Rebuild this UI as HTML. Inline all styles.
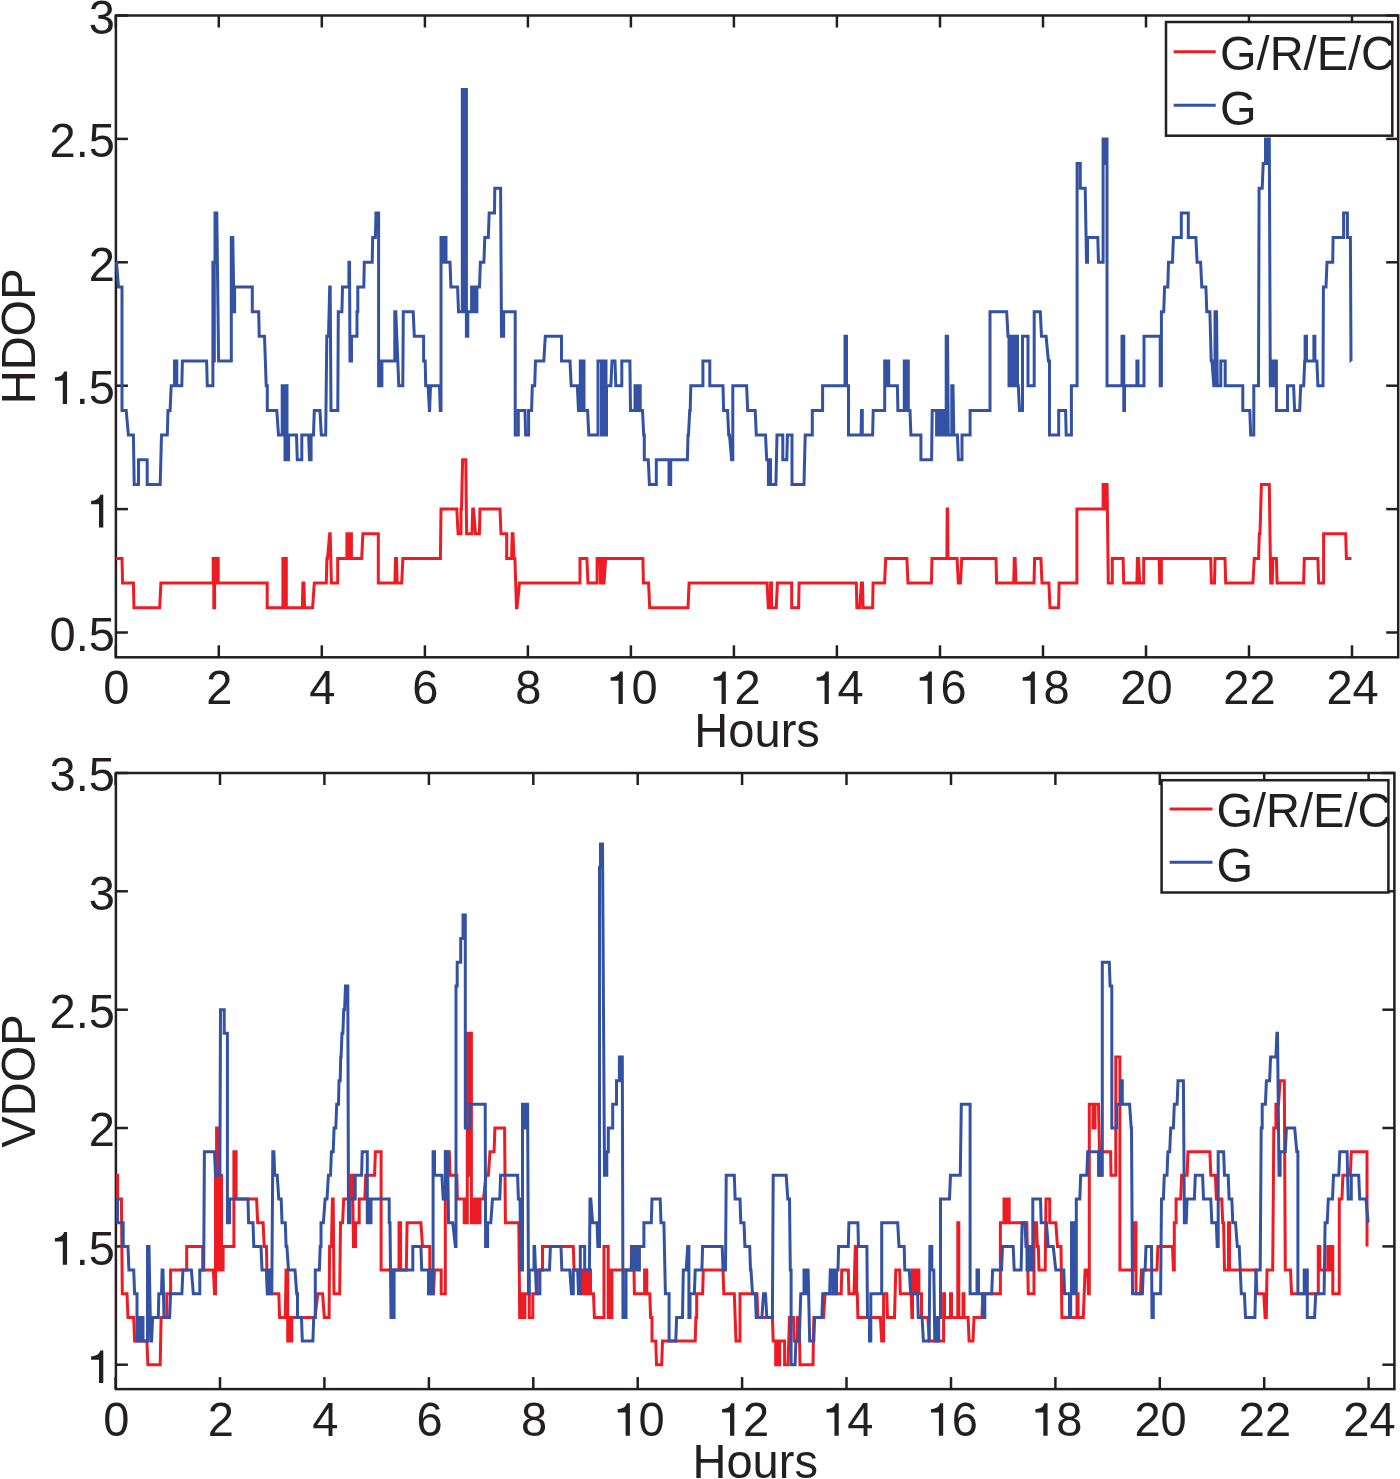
<!DOCTYPE html>
<html><head><meta charset="utf-8"><style>
html,body{margin:0;padding:0;background:#fff;}
body{width:1400px;height:1479px;overflow:hidden;font-family:"Liberation Sans",sans-serif;}
svg{display:block;}
</style></head><body>
<svg width="1400" height="1479" viewBox="0 0 1400 1479">
<g font-family="&quot;Liberation Sans&quot;, sans-serif" font-size="49" fill="#231f20">
<rect x="115.9" y="15.5" width="1282.3" height="641.8" fill="none" stroke="#231f20" stroke-width="2.5"/>
<line x1="115.8" y1="657.3" x2="115.8" y2="645.3" stroke="#231f20" stroke-width="2.5"/>
<line x1="115.8" y1="15.5" x2="115.8" y2="27.5" stroke="#231f20" stroke-width="2.5"/>
<line x1="218.8" y1="657.3" x2="218.8" y2="645.3" stroke="#231f20" stroke-width="2.5"/>
<line x1="218.8" y1="15.5" x2="218.8" y2="27.5" stroke="#231f20" stroke-width="2.5"/>
<line x1="321.8" y1="657.3" x2="321.8" y2="645.3" stroke="#231f20" stroke-width="2.5"/>
<line x1="321.8" y1="15.5" x2="321.8" y2="27.5" stroke="#231f20" stroke-width="2.5"/>
<line x1="424.9" y1="657.3" x2="424.9" y2="645.3" stroke="#231f20" stroke-width="2.5"/>
<line x1="424.9" y1="15.5" x2="424.9" y2="27.5" stroke="#231f20" stroke-width="2.5"/>
<line x1="527.9" y1="657.3" x2="527.9" y2="645.3" stroke="#231f20" stroke-width="2.5"/>
<line x1="527.9" y1="15.5" x2="527.9" y2="27.5" stroke="#231f20" stroke-width="2.5"/>
<line x1="630.9" y1="657.3" x2="630.9" y2="645.3" stroke="#231f20" stroke-width="2.5"/>
<line x1="630.9" y1="15.5" x2="630.9" y2="27.5" stroke="#231f20" stroke-width="2.5"/>
<line x1="733.9" y1="657.3" x2="733.9" y2="645.3" stroke="#231f20" stroke-width="2.5"/>
<line x1="733.9" y1="15.5" x2="733.9" y2="27.5" stroke="#231f20" stroke-width="2.5"/>
<line x1="836.9" y1="657.3" x2="836.9" y2="645.3" stroke="#231f20" stroke-width="2.5"/>
<line x1="836.9" y1="15.5" x2="836.9" y2="27.5" stroke="#231f20" stroke-width="2.5"/>
<line x1="940.0" y1="657.3" x2="940.0" y2="645.3" stroke="#231f20" stroke-width="2.5"/>
<line x1="940.0" y1="15.5" x2="940.0" y2="27.5" stroke="#231f20" stroke-width="2.5"/>
<line x1="1043.0" y1="657.3" x2="1043.0" y2="645.3" stroke="#231f20" stroke-width="2.5"/>
<line x1="1043.0" y1="15.5" x2="1043.0" y2="27.5" stroke="#231f20" stroke-width="2.5"/>
<line x1="1146.0" y1="657.3" x2="1146.0" y2="645.3" stroke="#231f20" stroke-width="2.5"/>
<line x1="1146.0" y1="15.5" x2="1146.0" y2="27.5" stroke="#231f20" stroke-width="2.5"/>
<line x1="1249.0" y1="657.3" x2="1249.0" y2="645.3" stroke="#231f20" stroke-width="2.5"/>
<line x1="1249.0" y1="15.5" x2="1249.0" y2="27.5" stroke="#231f20" stroke-width="2.5"/>
<line x1="1352.0" y1="657.3" x2="1352.0" y2="645.3" stroke="#231f20" stroke-width="2.5"/>
<line x1="1352.0" y1="15.5" x2="1352.0" y2="27.5" stroke="#231f20" stroke-width="2.5"/>
<line x1="115.9" y1="632.5" x2="127.9" y2="632.5" stroke="#231f20" stroke-width="2.5"/>
<line x1="1398.2" y1="632.5" x2="1386.2" y2="632.5" stroke="#231f20" stroke-width="2.5"/>
<line x1="115.9" y1="509.1" x2="127.9" y2="509.1" stroke="#231f20" stroke-width="2.5"/>
<line x1="1398.2" y1="509.1" x2="1386.2" y2="509.1" stroke="#231f20" stroke-width="2.5"/>
<line x1="115.9" y1="385.7" x2="127.9" y2="385.7" stroke="#231f20" stroke-width="2.5"/>
<line x1="1398.2" y1="385.7" x2="1386.2" y2="385.7" stroke="#231f20" stroke-width="2.5"/>
<line x1="115.9" y1="262.3" x2="127.9" y2="262.3" stroke="#231f20" stroke-width="2.5"/>
<line x1="1398.2" y1="262.3" x2="1386.2" y2="262.3" stroke="#231f20" stroke-width="2.5"/>
<line x1="115.9" y1="138.9" x2="127.9" y2="138.9" stroke="#231f20" stroke-width="2.5"/>
<line x1="1398.2" y1="138.9" x2="1386.2" y2="138.9" stroke="#231f20" stroke-width="2.5"/>
<line x1="115.9" y1="15.5" x2="127.9" y2="15.5" stroke="#231f20" stroke-width="2.5"/>
<line x1="1398.2" y1="15.5" x2="1386.2" y2="15.5" stroke="#231f20" stroke-width="2.5"/>
<polyline points="116.0,558.5 122.0,558.5 122.6,583.1 133.4,583.1 134.0,607.8 159.7,607.8 160.9,583.1 213.2,583.1 213.2,558.5 213.8,558.5 213.8,607.8 214.6,607.8 214.6,558.5 215.8,558.5 215.8,583.1 216.6,583.1 216.6,558.5 218.2,558.5 218.2,583.1 267.2,583.1 267.2,607.8 282.9,607.8 282.9,558.5 284.0,558.5 284.0,607.8 284.8,607.8 284.8,558.5 286.3,558.5 286.3,607.8 302.3,607.8 302.9,583.1 303.9,583.1 304.6,607.8 312.6,607.8 314.3,583.1 326.3,583.1 326.9,558.5 327.5,558.5 329.7,533.8 330.2,533.8 331.4,583.1 337.7,583.1 337.7,558.5 346.9,558.5 346.9,533.8 349.0,533.8 349.0,558.5 350.0,558.5 350.0,533.8 351.4,533.8 351.4,558.5 361.7,558.5 362.9,533.8 378.3,533.8 378.3,583.1 394.9,583.1 395.5,558.5 396.5,558.5 397.1,583.1 401.7,583.1 402.9,558.5 440.4,558.5 441.0,509.1 456.8,509.1 458.1,533.8 461.0,533.8 461.0,509.1 461.5,509.1 462.6,459.7 465.8,459.7 466.6,533.8 472.0,533.8 472.7,509.1 473.5,509.1 475.5,533.8 479.4,533.8 480.0,509.1 500.0,509.1 501.0,533.8 506.7,533.8 506.7,558.5 511.6,558.5 512.2,533.8 513.0,533.8 514.0,558.5 514.9,558.5 516.5,607.8 517.0,607.8 519.5,583.1 580.0,583.1 580.0,558.5 586.9,558.5 588.0,583.1 597.1,583.1 597.1,558.5 600.0,558.5 600.6,583.1 601.7,583.1 601.7,558.5 603.0,558.5 603.0,583.1 604.0,583.1 605.7,558.5 642.9,558.5 643.4,583.1 648.6,583.1 649.7,607.8 688.0,607.8 689.1,583.1 767.1,583.1 768.3,607.8 770.6,607.8 770.6,583.1 771.5,583.1 771.5,607.8 776.3,607.8 777.4,583.1 791.7,583.1 791.7,607.8 798.6,607.8 799.1,583.1 856.3,583.1 856.9,607.8 859.7,607.8 861.4,583.1 862.5,583.1 863.1,607.8 872.6,607.8 873.1,583.1 884.6,583.1 885.7,558.5 906.9,558.5 908.0,583.1 931.4,583.1 932.0,558.5 946.9,558.5 947.2,509.1 947.6,509.1 948.0,558.5 957.1,558.5 958.3,583.1 960.5,583.1 961.7,558.5 996.0,558.5 996.6,583.1 1013.7,583.1 1014.3,558.5 1015.1,558.5 1016.0,583.1 1034.0,583.1 1034.6,558.5 1040.9,558.5 1042.0,583.1 1048.9,583.1 1050.0,607.8 1058.6,607.8 1059.1,583.1 1076.9,583.1 1076.9,509.1 1103.1,509.1 1103.1,484.4 1104.5,484.4 1104.5,509.1 1105.5,509.1 1105.5,484.4 1107.1,484.4 1108.3,583.1 1112.3,583.1 1112.3,558.5 1123.1,558.5 1123.7,583.1 1136.9,583.1 1137.4,558.5 1138.5,558.5 1139.7,583.1 1143.7,583.1 1143.7,558.5 1159.1,558.5 1159.7,583.1 1161.4,583.1 1161.4,558.5 1210.7,558.5 1211.4,583.1 1214.5,583.1 1215.0,558.5 1225.0,558.5 1225.7,583.1 1252.9,583.1 1254.3,558.5 1258.6,558.5 1259.3,533.8 1260.0,533.8 1261.4,484.4 1269.3,484.4 1270.7,583.1 1272.2,583.1 1272.9,558.5 1276.4,558.5 1277.1,583.1 1303.6,583.1 1304.3,558.5 1317.9,558.5 1318.6,583.1 1323.6,583.1 1323.6,533.8 1345.7,533.8 1346.4,558.5 1351.4,558.5" fill="none" stroke="#ed1c24" stroke-width="3.0" stroke-linejoin="miter" stroke-miterlimit="3"/>
<polyline points="116.0,262.3 116.5,262.3 118.5,287.0 122.0,287.0 122.0,410.4 126.2,410.4 128.4,435.1 133.4,435.1 134.2,484.4 138.5,484.4 138.5,459.7 147.2,459.7 147.2,484.4 160.2,484.4 161.5,435.1 167.3,435.1 168.0,410.4 170.1,410.4 171.2,385.7 174.5,385.7 174.5,361.0 176.8,361.0 176.8,385.7 181.8,385.7 182.4,361.0 206.6,361.0 207.3,385.7 212.9,385.7 212.9,262.3 213.6,262.3 213.6,361.0 214.3,361.0 214.3,262.3 215.0,262.3 215.0,212.9 216.8,212.9 218.6,361.0 231.3,361.0 231.3,237.6 232.8,237.6 234.0,311.7 234.6,311.7 234.6,287.0 252.3,287.0 252.3,311.7 258.7,311.7 259.2,336.3 264.5,336.3 266.2,385.7 267.3,385.7 267.3,410.4 276.8,410.4 278.5,435.1 282.2,435.1 282.2,385.7 283.2,385.7 283.2,435.1 284.0,435.1 284.0,385.7 285.0,385.7 285.0,459.7 286.0,459.7 286.0,385.7 287.0,385.7 287.0,459.7 288.6,459.7 288.6,435.1 296.5,435.1 297.3,459.7 301.8,459.7 301.8,435.1 308.6,435.1 309.5,459.7 311.1,459.7 311.1,435.1 313.5,435.1 314.3,410.4 320.0,410.4 321.3,435.1 325.7,435.1 326.8,336.3 328.5,336.3 329.7,287.0 330.2,287.0 331.0,410.4 337.8,410.4 338.3,311.7 341.9,311.7 342.5,287.0 348.9,287.0 348.9,262.3 349.5,262.3 350.0,361.0 351.5,361.0 351.5,336.3 357.0,336.3 357.0,311.7 357.8,311.7 357.8,287.0 363.8,287.0 364.3,262.3 372.2,262.3 372.7,237.6 375.4,237.6 376.0,212.9 378.6,212.9 378.6,385.7 380.0,385.7 380.0,361.0 381.0,361.0 381.0,385.7 381.9,385.7 381.9,361.0 394.8,361.0 394.8,311.7 395.8,311.7 398.8,385.7 402.8,385.7 403.3,311.7 413.2,311.7 414.3,336.3 423.6,336.3 423.6,361.0 425.2,361.0 425.7,385.7 428.1,385.7 429.4,410.4 429.6,410.4 430.5,385.7 439.5,385.7 440.3,410.4 441.0,410.4 441.0,237.6 443.0,237.6 443.0,262.3 444.0,262.3 444.0,237.6 446.0,237.6 446.0,262.3 450.0,262.3 450.9,287.0 457.6,287.0 458.5,311.7 462.3,311.7 462.3,89.5 464.0,89.5 464.0,311.7 464.8,311.7 464.8,89.5 466.4,89.5 466.4,336.3 467.8,336.3 467.8,311.7 471.6,311.7 471.6,287.0 473.0,287.0 473.0,311.7 474.0,311.7 474.0,287.0 475.5,287.0 475.5,311.7 476.9,311.7 476.9,287.0 479.5,287.0 480.4,262.3 483.9,262.3 484.8,237.6 488.3,237.6 489.2,212.9 494.5,212.9 494.8,188.3 500.6,188.3 501.5,336.3 503.6,336.3 503.6,311.7 515.2,311.7 515.2,435.1 518.3,435.1 518.3,410.4 525.0,410.4 525.6,435.1 528.6,435.1 528.6,410.4 531.6,410.4 532.3,385.7 534.7,385.7 535.5,361.0 543.8,361.0 545.3,336.3 561.5,336.3 561.5,361.0 570.0,361.0 571.2,385.7 577.3,385.7 578.5,410.4 580.3,410.4 580.3,361.0 581.5,361.0 581.5,410.4 582.5,410.4 582.5,361.0 584.0,361.0 584.0,410.4 587.6,410.4 588.8,435.1 598.0,435.1 598.0,361.0 601.5,361.0 601.5,435.1 602.5,435.1 602.5,361.0 603.5,361.0 603.5,435.1 605.0,435.1 605.0,361.0 606.0,361.0 606.0,435.1 606.5,435.1 606.5,385.7 610.9,385.7 612.0,361.0 615.0,361.0 615.8,385.7 621.8,385.7 621.8,361.0 629.9,361.0 630.5,410.4 635.0,410.4 635.0,385.7 636.5,385.7 636.5,410.4 637.5,410.4 637.5,385.7 640.2,385.7 640.2,410.4 642.5,410.4 643.7,435.1 644.3,435.1 644.3,459.7 648.3,459.7 649.4,484.4 656.3,484.4 656.3,459.7 669.0,459.7 669.0,484.4 670.7,484.4 670.7,459.7 687.4,459.7 688.0,435.1 688.5,435.1 689.7,410.4 690.2,410.4 690.8,385.7 702.9,385.7 702.9,361.0 709.8,361.0 709.8,385.7 723.0,385.7 723.6,410.4 727.6,410.4 728.7,435.1 729.5,435.1 731.6,459.7 732.8,459.7 732.8,385.7 746.6,385.7 747.7,410.4 755.2,410.4 756.3,435.1 765.5,435.1 766.7,459.7 768.4,459.7 768.4,484.4 769.5,484.4 769.5,459.7 770.5,459.7 770.5,484.4 775.9,484.4 777.0,435.1 782.8,435.1 782.8,459.7 786.8,459.7 787.4,435.1 792.0,435.1 792.0,484.4 804.0,484.4 805.2,435.1 812.3,435.1 812.3,410.4 822.6,410.4 822.6,385.7 845.0,385.7 845.0,336.3 846.5,336.3 846.5,385.7 848.5,385.7 848.5,435.1 861.1,435.1 861.5,410.4 862.3,410.4 862.3,435.1 872.6,435.1 873.2,410.4 884.7,410.4 884.7,361.0 886.0,361.0 886.0,385.7 887.0,385.7 887.0,361.0 888.7,361.0 888.7,385.7 897.4,385.7 897.9,410.4 904.3,410.4 904.3,361.0 905.5,361.0 905.5,410.4 906.5,410.4 906.5,361.0 908.3,361.0 908.3,410.4 910.0,410.4 910.9,435.1 920.9,435.1 920.9,459.7 931.6,459.7 932.2,410.4 936.6,410.4 936.6,435.1 937.6,435.1 937.6,410.4 938.6,410.4 938.6,435.1 939.6,435.1 939.6,410.4 941.0,410.4 941.0,435.1 942.5,435.1 942.5,410.4 944.0,410.4 944.0,435.1 946.2,435.1 946.2,336.3 947.5,336.3 948.3,435.1 951.8,435.1 951.8,385.7 953.0,385.7 953.8,435.1 957.4,435.1 958.4,459.7 962.0,459.7 962.0,435.1 970.1,435.1 970.1,410.4 990.0,410.4 990.0,311.7 1006.7,311.7 1008.0,336.3 1009.0,336.3 1009.0,385.7 1010.5,385.7 1010.5,336.3 1012.0,336.3 1012.0,385.7 1013.5,385.7 1013.5,336.3 1015.0,336.3 1015.0,385.7 1016.5,385.7 1016.5,336.3 1017.5,336.3 1017.5,385.7 1018.3,385.7 1019.5,410.4 1021.5,410.4 1022.5,410.4 1022.5,336.3 1028.0,336.3 1028.0,385.7 1034.2,385.7 1034.2,311.7 1040.3,311.7 1041.5,336.3 1046.1,336.3 1048.4,361.0 1049.5,361.0 1049.5,435.1 1058.7,435.1 1058.7,410.4 1065.6,410.4 1066.2,435.1 1071.4,435.1 1071.4,385.7 1077.1,385.7 1077.1,163.6 1080.3,163.6 1080.3,188.3 1085.2,188.3 1086.5,262.3 1087.5,262.3 1087.5,237.6 1097.8,237.6 1098.5,262.3 1103.1,262.3 1103.1,138.9 1104.5,138.9 1104.5,163.6 1105.5,163.6 1105.5,138.9 1107.0,138.9 1107.0,385.7 1122.0,385.7 1122.0,336.3 1123.8,336.3 1123.8,410.4 1124.5,410.4 1124.5,385.7 1136.9,385.7 1136.9,361.0 1138.0,361.0 1138.0,385.7 1144.0,385.7 1144.0,336.3 1160.2,336.3 1160.2,385.7 1161.4,385.7 1161.4,311.7 1163.7,311.7 1164.6,287.0 1167.8,287.0 1168.5,262.3 1172.5,262.3 1173.4,237.6 1181.3,237.6 1181.3,212.9 1188.3,212.9 1188.3,237.6 1195.9,237.6 1197.1,262.3 1200.6,262.3 1201.8,287.0 1205.9,287.0 1206.8,311.7 1209.9,311.7 1211.2,361.0 1212.0,361.0 1213.8,385.7 1215.0,385.7 1215.0,311.7 1216.5,311.7 1217.3,385.7 1220.8,385.7 1220.8,361.0 1225.2,361.0 1225.2,385.7 1242.8,385.7 1242.8,410.4 1249.8,410.4 1250.7,435.1 1253.8,435.1 1253.8,385.7 1258.5,385.7 1259.1,188.3 1262.2,188.3 1263.2,163.6 1265.5,163.6 1265.5,138.9 1267.0,138.9 1267.0,163.6 1268.0,163.6 1268.0,138.9 1269.3,138.9 1270.3,385.7 1271.5,385.7 1271.5,361.0 1273.0,361.0 1273.0,385.7 1274.0,385.7 1274.0,361.0 1276.4,361.0 1276.4,410.4 1287.5,410.4 1287.5,385.7 1293.6,385.7 1294.6,410.4 1299.7,410.4 1300.7,385.7 1303.7,385.7 1304.7,361.0 1305.1,361.0 1305.1,336.3 1306.5,336.3 1306.5,361.0 1313.9,361.0 1313.9,336.3 1314.9,336.3 1314.9,361.0 1316.9,361.0 1317.9,385.7 1323.0,385.7 1323.4,287.0 1326.0,287.0 1327.0,262.3 1332.7,262.3 1333.1,237.6 1343.6,237.6 1343.6,212.9 1347.4,212.9 1347.4,237.6 1350.4,237.6 1351.0,361.0 1351.2,361.0" fill="none" stroke="#3352a4" stroke-width="3.0" stroke-linejoin="miter" stroke-miterlimit="3"/>
<text transform="translate(103.22,704.00) scale(0.96,1)">0</text>
<text transform="translate(206.24,704.00) scale(0.96,1)">2</text>
<text transform="translate(309.26,704.00) scale(0.96,1)">4</text>
<text transform="translate(412.28,704.00) scale(0.96,1)">6</text>
<text transform="translate(515.30,704.00) scale(0.96,1)">8</text>
<path transform="translate(605.25,704.00) scale(0.04704,-0.04900)" d="M373,0 L373,665 L309,665 C290,610 255,570 190,555 C160,548 130,545 114,540 L114,473 L282,473 L282,0 Z"/><text transform="translate(631.40,704.00) scale(0.96,1)">0</text>
<path transform="translate(708.27,704.00) scale(0.04704,-0.04900)" d="M373,0 L373,665 L309,665 C290,610 255,570 190,555 C160,548 130,545 114,540 L114,473 L282,473 L282,0 Z"/><text transform="translate(734.42,704.00) scale(0.96,1)">2</text>
<path transform="translate(811.29,704.00) scale(0.04704,-0.04900)" d="M373,0 L373,665 L309,665 C290,610 255,570 190,555 C160,548 130,545 114,540 L114,473 L282,473 L282,0 Z"/><text transform="translate(837.44,704.00) scale(0.96,1)">4</text>
<path transform="translate(914.31,704.00) scale(0.04704,-0.04900)" d="M373,0 L373,665 L309,665 C290,610 255,570 190,555 C160,548 130,545 114,540 L114,473 L282,473 L282,0 Z"/><text transform="translate(940.46,704.00) scale(0.96,1)">6</text>
<path transform="translate(1017.33,704.00) scale(0.04704,-0.04900)" d="M373,0 L373,665 L309,665 C290,610 255,570 190,555 C160,548 130,545 114,540 L114,473 L282,473 L282,0 Z"/><text transform="translate(1043.48,704.00) scale(0.96,1)">8</text>
<text transform="translate(1120.35,704.00) scale(0.96,1)">2</text><text transform="translate(1146.50,704.00) scale(0.96,1)">0</text>
<text transform="translate(1223.37,704.00) scale(0.96,1)">2</text><text transform="translate(1249.52,704.00) scale(0.96,1)">2</text>
<text transform="translate(1326.39,704.00) scale(0.96,1)">2</text><text transform="translate(1352.54,704.00) scale(0.96,1)">4</text>
<text transform="translate(49.51,650.80) scale(0.96,1)">0</text><text transform="translate(75.67,650.80) scale(0.96,1)">.</text><text transform="translate(88.75,650.80) scale(0.96,1)">5</text>
<path transform="translate(85.75,527.40) scale(0.04704,-0.04900)" d="M373,0 L373,665 L309,665 C290,610 255,570 190,555 C160,548 130,545 114,540 L114,473 L282,473 L282,0 Z"/>
<path transform="translate(49.51,404.00) scale(0.04704,-0.04900)" d="M373,0 L373,665 L309,665 C290,610 255,570 190,555 C160,548 130,545 114,540 L114,473 L282,473 L282,0 Z"/><text transform="translate(75.67,404.00) scale(0.96,1)">.</text><text transform="translate(88.75,404.00) scale(0.96,1)">5</text>
<text transform="translate(88.75,280.60) scale(0.96,1)">2</text>
<text transform="translate(49.51,157.20) scale(0.96,1)">2</text><text transform="translate(75.67,157.20) scale(0.96,1)">.</text><text transform="translate(88.75,157.20) scale(0.96,1)">5</text>
<text transform="translate(88.75,33.80) scale(0.96,1)">3</text>
<text transform="translate(757.1,747.4) scale(0.96,1)" text-anchor="middle">Hours</text>
<text transform="translate(34.5,336.4) rotate(-90) scale(0.96,1)" text-anchor="middle">HDOP</text>
<rect x="1166" y="22" width="226.29999999999995" height="113.69999999999999" fill="#fff" stroke="#231f20" stroke-width="2.5"/>
<line x1="1173.7" y1="51.7" x2="1215.7" y2="51.7" stroke="#ed1c24" stroke-width="3.0"/>
<line x1="1173.7" y1="105.2" x2="1215.7" y2="105.2" stroke="#3352a4" stroke-width="3.0"/>
<text transform="translate(1220.0,69.7) scale(0.96,1)">G/R/E/C</text>
<text transform="translate(1220.0,124.9) scale(0.96,1)">G</text>
<rect x="115.9" y="773.0" width="1278.5" height="616.0999999999999" fill="none" stroke="#231f20" stroke-width="2.5"/>
<line x1="115.6" y1="1389.1" x2="115.6" y2="1377.1" stroke="#231f20" stroke-width="2.5"/>
<line x1="115.6" y1="773.0" x2="115.6" y2="785.0" stroke="#231f20" stroke-width="2.5"/>
<line x1="220.0" y1="1389.1" x2="220.0" y2="1377.1" stroke="#231f20" stroke-width="2.5"/>
<line x1="220.0" y1="773.0" x2="220.0" y2="785.0" stroke="#231f20" stroke-width="2.5"/>
<line x1="324.4" y1="1389.1" x2="324.4" y2="1377.1" stroke="#231f20" stroke-width="2.5"/>
<line x1="324.4" y1="773.0" x2="324.4" y2="785.0" stroke="#231f20" stroke-width="2.5"/>
<line x1="428.9" y1="1389.1" x2="428.9" y2="1377.1" stroke="#231f20" stroke-width="2.5"/>
<line x1="428.9" y1="773.0" x2="428.9" y2="785.0" stroke="#231f20" stroke-width="2.5"/>
<line x1="533.3" y1="1389.1" x2="533.3" y2="1377.1" stroke="#231f20" stroke-width="2.5"/>
<line x1="533.3" y1="773.0" x2="533.3" y2="785.0" stroke="#231f20" stroke-width="2.5"/>
<line x1="637.7" y1="1389.1" x2="637.7" y2="1377.1" stroke="#231f20" stroke-width="2.5"/>
<line x1="637.7" y1="773.0" x2="637.7" y2="785.0" stroke="#231f20" stroke-width="2.5"/>
<line x1="742.1" y1="1389.1" x2="742.1" y2="1377.1" stroke="#231f20" stroke-width="2.5"/>
<line x1="742.1" y1="773.0" x2="742.1" y2="785.0" stroke="#231f20" stroke-width="2.5"/>
<line x1="846.5" y1="1389.1" x2="846.5" y2="1377.1" stroke="#231f20" stroke-width="2.5"/>
<line x1="846.5" y1="773.0" x2="846.5" y2="785.0" stroke="#231f20" stroke-width="2.5"/>
<line x1="951.0" y1="1389.1" x2="951.0" y2="1377.1" stroke="#231f20" stroke-width="2.5"/>
<line x1="951.0" y1="773.0" x2="951.0" y2="785.0" stroke="#231f20" stroke-width="2.5"/>
<line x1="1055.4" y1="1389.1" x2="1055.4" y2="1377.1" stroke="#231f20" stroke-width="2.5"/>
<line x1="1055.4" y1="773.0" x2="1055.4" y2="785.0" stroke="#231f20" stroke-width="2.5"/>
<line x1="1159.8" y1="1389.1" x2="1159.8" y2="1377.1" stroke="#231f20" stroke-width="2.5"/>
<line x1="1159.8" y1="773.0" x2="1159.8" y2="785.0" stroke="#231f20" stroke-width="2.5"/>
<line x1="1264.2" y1="1389.1" x2="1264.2" y2="1377.1" stroke="#231f20" stroke-width="2.5"/>
<line x1="1264.2" y1="773.0" x2="1264.2" y2="785.0" stroke="#231f20" stroke-width="2.5"/>
<line x1="1368.6" y1="1389.1" x2="1368.6" y2="1377.1" stroke="#231f20" stroke-width="2.5"/>
<line x1="1368.6" y1="773.0" x2="1368.6" y2="785.0" stroke="#231f20" stroke-width="2.5"/>
<line x1="115.9" y1="1364.7" x2="127.9" y2="1364.7" stroke="#231f20" stroke-width="2.5"/>
<line x1="1394.4" y1="1364.7" x2="1382.4" y2="1364.7" stroke="#231f20" stroke-width="2.5"/>
<line x1="115.9" y1="1246.4" x2="127.9" y2="1246.4" stroke="#231f20" stroke-width="2.5"/>
<line x1="1394.4" y1="1246.4" x2="1382.4" y2="1246.4" stroke="#231f20" stroke-width="2.5"/>
<line x1="115.9" y1="1128.0" x2="127.9" y2="1128.0" stroke="#231f20" stroke-width="2.5"/>
<line x1="1394.4" y1="1128.0" x2="1382.4" y2="1128.0" stroke="#231f20" stroke-width="2.5"/>
<line x1="115.9" y1="1009.7" x2="127.9" y2="1009.7" stroke="#231f20" stroke-width="2.5"/>
<line x1="1394.4" y1="1009.7" x2="1382.4" y2="1009.7" stroke="#231f20" stroke-width="2.5"/>
<line x1="115.9" y1="891.3" x2="127.9" y2="891.3" stroke="#231f20" stroke-width="2.5"/>
<line x1="1394.4" y1="891.3" x2="1382.4" y2="891.3" stroke="#231f20" stroke-width="2.5"/>
<line x1="115.9" y1="773.0" x2="127.9" y2="773.0" stroke="#231f20" stroke-width="2.5"/>
<line x1="1394.4" y1="773.0" x2="1382.4" y2="773.0" stroke="#231f20" stroke-width="2.5"/>
<polyline points="116.0,1175.3 117.6,1175.3 117.6,1199.0 121.4,1199.0 122.3,1293.7 127.0,1293.7 128.0,1317.4 133.7,1317.4 134.6,1341.0 146.9,1341.0 147.9,1364.7 160.2,1364.7 161.1,1317.4 166.8,1317.4 166.8,1293.7 170.6,1293.7 170.6,1270.0 186.7,1270.0 186.7,1246.4 202.7,1246.4 202.7,1270.0 213.4,1270.0 214.5,1293.7 215.5,1293.7 215.5,1175.3 216.6,1175.3 216.6,1128.0 217.5,1128.0 217.5,1270.0 218.5,1270.0 218.5,1175.3 219.5,1175.3 219.5,1270.0 220.5,1270.0 220.5,1175.3 221.5,1175.3 221.5,1270.0 223.1,1270.0 223.1,1246.4 233.9,1246.4 233.9,1151.7 236.1,1151.7 236.1,1199.0 256.6,1199.0 257.7,1222.7 263.1,1222.7 264.2,1246.4 266.4,1246.4 267.4,1293.7 278.8,1293.7 279.6,1317.4 285.3,1317.4 286.1,1270.0 287.7,1270.0 287.7,1341.0 289.0,1341.0 289.0,1317.4 290.0,1317.4 290.0,1341.0 291.8,1341.0 291.8,1317.4 315.0,1317.4 317.8,1293.7 322.6,1293.7 324.3,1317.4 329.1,1317.4 329.6,1246.4 331.5,1246.4 332.4,1199.0 333.2,1199.0 334.0,1293.7 339.7,1293.7 340.5,1222.7 342.6,1222.7 343.7,1199.0 350.2,1199.0 351.0,1175.3 352.5,1175.3 353.5,1246.4 355.5,1246.4 355.5,1222.7 359.2,1222.7 359.2,1199.0 364.8,1199.0 365.7,1175.3 374.6,1175.3 375.4,1151.7 381.1,1151.7 381.1,1270.0 399.0,1270.0 399.0,1222.7 400.6,1222.7 400.6,1270.0 406.3,1270.0 407.1,1222.7 420.9,1222.7 422.5,1246.4 429.8,1246.4 429.8,1293.7 433.5,1293.7 434.5,1270.0 441.2,1270.0 441.2,1293.7 445.3,1293.7 445.3,1151.7 449.3,1151.7 450.0,1175.3 456.8,1175.3 457.4,1199.0 464.2,1199.0 464.2,1222.7 465.5,1222.7 465.5,1199.0 466.5,1199.0 466.5,1222.7 467.3,1222.7 467.3,1033.3 469.5,1033.3 469.5,1175.3 470.5,1175.3 470.5,1033.3 471.4,1033.3 471.4,1222.7 473.0,1222.7 473.0,1199.0 474.5,1199.0 474.5,1222.7 476.5,1222.7 476.5,1199.0 478.0,1199.0 478.0,1222.7 480.0,1222.7 480.0,1199.0 483.5,1199.0 486.0,1175.3 488.4,1175.3 490.0,1151.7 494.1,1151.7 494.9,1128.0 504.6,1128.0 505.4,1222.7 518.8,1222.7 519.7,1317.4 521.0,1317.4 521.0,1293.7 522.5,1293.7 522.5,1317.4 524.9,1317.4 524.9,1293.7 529.3,1293.7 529.3,1317.4 532.8,1317.4 532.8,1293.7 537.2,1293.7 537.2,1270.0 542.5,1270.0 542.5,1246.4 573.3,1246.4 574.1,1270.0 582.0,1270.0 582.0,1293.7 584.0,1293.7 584.0,1270.0 586.0,1270.0 586.0,1293.7 588.0,1293.7 588.0,1270.0 590.5,1270.0 590.5,1293.7 593.5,1293.7 594.4,1317.4 604.0,1317.4 604.0,1246.4 608.2,1246.4 608.2,1317.4 609.5,1317.4 609.5,1270.0 610.5,1270.0 610.5,1317.4 611.9,1317.4 611.9,1270.0 631.4,1270.0 631.4,1246.4 633.6,1246.4 634.4,1293.7 644.6,1293.7 644.6,1270.0 646.8,1270.0 646.8,1293.7 649.8,1293.7 650.6,1317.4 652.0,1317.4 652.0,1341.0 655.8,1341.0 656.5,1364.7 661.7,1364.7 662.5,1341.0 695.2,1341.0 695.9,1317.4 696.7,1317.4 696.7,1293.7 702.6,1293.7 703.3,1270.0 723.0,1270.0 723.8,1293.7 734.3,1293.7 736.0,1341.0 740.0,1341.0 740.0,1293.7 757.0,1293.7 757.8,1317.4 772.4,1317.4 773.2,1341.0 775.7,1341.0 775.7,1364.7 777.0,1364.7 777.0,1341.0 778.0,1341.0 778.0,1364.7 779.7,1364.7 779.7,1341.0 784.6,1341.0 784.6,1364.7 788.0,1364.7 789.5,1317.4 793.5,1317.4 794.3,1341.0 797.5,1341.0 797.5,1317.4 799.2,1317.4 800.0,1364.7 813.0,1364.7 813.8,1317.4 823.5,1317.4 825.1,1293.7 841.2,1293.7 841.8,1270.0 848.3,1270.0 848.9,1293.7 854.0,1293.7 855.3,1246.4 856.6,1246.4 856.6,1293.7 857.3,1293.7 857.9,1317.4 880.4,1317.4 881.7,1341.0 883.6,1341.0 883.6,1293.7 886.8,1293.7 887.5,1317.4 894.5,1317.4 895.8,1270.0 899.7,1270.0 900.3,1293.7 911.2,1293.7 911.9,1317.4 912.5,1317.4 912.5,1270.0 914.5,1270.0 914.5,1293.7 916.0,1293.7 916.0,1270.0 918.9,1270.0 918.9,1293.7 921.5,1293.7 921.5,1317.4 927.9,1317.4 929.2,1341.0 943.6,1341.0 943.6,1293.7 944.5,1293.7 944.5,1317.4 950.5,1317.4 950.5,1293.7 951.5,1293.7 951.5,1317.4 957.8,1317.4 957.8,1222.7 958.8,1222.7 958.8,1317.4 963.0,1317.4 963.0,1293.7 964.0,1293.7 964.0,1317.4 968.1,1317.4 969.1,1341.0 973.0,1341.0 974.0,1317.4 981.9,1317.4 982.8,1293.7 1000.4,1293.7 1000.4,1222.7 1004.0,1222.7 1004.0,1199.0 1005.5,1199.0 1005.5,1222.7 1006.5,1222.7 1006.5,1199.0 1009.2,1199.0 1009.2,1222.7 1026.8,1222.7 1028.3,1293.7 1034.0,1293.7 1034.0,1222.7 1036.5,1222.7 1037.3,1246.4 1038.3,1246.4 1039.0,1270.0 1045.2,1270.0 1046.0,1199.0 1049.7,1199.0 1049.7,1222.7 1055.8,1222.7 1057.5,1246.4 1061.0,1246.4 1061.9,1317.4 1077.0,1317.4 1077.0,1293.7 1078.1,1293.7 1078.1,1317.4 1083.3,1317.4 1085.1,1270.0 1087.7,1270.0 1088.5,1293.7 1089.3,1293.7 1089.3,1104.3 1093.0,1104.3 1093.0,1128.0 1095.0,1128.0 1095.0,1104.3 1098.5,1104.3 1100.0,1175.3 1101.2,1175.3 1101.2,1151.7 1110.6,1151.7 1111.0,1175.3 1115.8,1175.3 1115.8,1057.0 1119.9,1057.0 1119.9,1270.0 1133.2,1270.0 1134.1,1222.7 1136.0,1222.7 1136.0,1293.7 1140.5,1293.7 1141.4,1270.0 1157.0,1270.0 1157.9,1246.4 1172.5,1246.4 1173.4,1270.0 1174.3,1270.0 1174.3,1222.7 1176.1,1222.7 1176.1,1199.0 1180.7,1199.0 1181.6,1175.3 1187.1,1175.3 1188.0,1151.7 1209.9,1151.7 1210.8,1175.3 1215.4,1175.3 1216.3,1199.0 1221.8,1199.0 1222.7,1222.7 1223.6,1222.7 1224.5,1270.0 1228.5,1270.0 1228.5,1222.7 1229.5,1222.7 1229.5,1270.0 1256.0,1270.0 1257.0,1293.7 1263.8,1293.7 1265.1,1317.4 1266.3,1317.4 1267.0,1270.0 1272.7,1270.0 1273.8,1128.0 1275.9,1128.0 1275.9,1104.3 1278.5,1104.3 1280.1,1080.7 1284.3,1080.7 1285.3,1270.0 1290.5,1270.0 1291.6,1293.7 1318.3,1293.7 1318.3,1246.4 1319.8,1246.4 1319.8,1270.0 1327.8,1270.0 1327.8,1246.4 1329.5,1246.4 1329.5,1270.0 1330.5,1270.0 1330.5,1246.4 1332.8,1246.4 1332.8,1293.7 1339.3,1293.7 1339.3,1199.0 1341.9,1199.0 1342.9,1175.3 1350.3,1175.3 1351.3,1151.7 1367.0,1151.7 1367.0,1246.4" fill="none" stroke="#ed1c24" stroke-width="3.0" stroke-linejoin="miter" stroke-miterlimit="3"/>
<polyline points="116.0,1199.0 117.5,1199.0 117.5,1222.7 123.2,1222.7 123.2,1246.4 128.0,1246.4 128.9,1270.0 133.7,1270.0 134.6,1293.7 137.0,1293.7 137.0,1341.0 138.5,1341.0 138.5,1317.4 140.0,1317.4 140.0,1341.0 141.5,1341.0 141.5,1317.4 143.0,1317.4 143.0,1341.0 147.5,1341.0 147.5,1246.4 149.0,1246.4 150.7,1341.0 151.6,1341.0 152.6,1317.4 158.3,1317.4 158.8,1293.7 161.5,1293.7 162.1,1270.0 163.0,1270.0 164.0,1317.4 169.6,1317.4 170.6,1293.7 181.9,1293.7 182.9,1270.0 191.4,1270.0 193.3,1293.7 199.8,1293.7 199.8,1270.0 203.7,1270.0 204.4,1151.7 214.5,1151.7 215.5,1175.3 219.9,1175.3 220.5,1009.7 224.2,1009.7 224.2,1033.3 227.4,1033.3 227.4,1222.7 229.6,1222.7 229.6,1199.0 248.0,1199.0 248.6,1222.7 253.0,1222.7 253.8,1246.4 261.0,1246.4 262.0,1270.0 266.4,1270.0 267.4,1293.7 268.5,1293.7 268.5,1270.0 270.0,1270.0 270.0,1293.7 271.8,1293.7 272.8,1151.7 273.9,1151.7 274.7,1175.3 277.2,1175.3 278.8,1199.0 281.2,1199.0 282.0,1222.7 285.3,1222.7 286.1,1246.4 286.9,1246.4 288.5,1270.0 295.0,1270.0 296.7,1293.7 297.5,1293.7 297.5,1317.4 301.5,1317.4 302.3,1341.0 312.9,1341.0 313.7,1317.4 315.3,1317.4 315.3,1270.0 319.4,1270.0 320.2,1246.4 321.0,1246.4 321.0,1222.7 323.4,1222.7 325.1,1199.0 327.0,1199.0 328.4,1175.3 330.5,1175.3 331.4,1151.7 333.2,1151.7 334.1,1128.0 335.8,1128.0 336.7,1104.3 338.5,1104.3 339.0,1080.7 340.2,1080.7 340.7,1057.0 341.1,1057.0 342.0,1033.3 342.9,1033.3 343.7,1009.7 344.6,1009.7 345.5,986.0 347.8,986.0 348.5,1222.7 350.0,1222.7 350.0,1199.0 355.2,1199.0 355.2,1175.3 361.6,1175.3 362.2,1151.7 367.3,1151.7 367.3,1222.7 369.0,1222.7 369.0,1199.0 370.0,1199.0 370.0,1222.7 371.0,1222.7 371.0,1199.0 389.2,1199.0 389.2,1222.7 390.0,1222.7 391.0,1317.4 392.0,1317.4 392.0,1270.0 393.0,1270.0 393.0,1317.4 394.1,1317.4 394.1,1270.0 412.8,1270.0 412.8,1246.4 420.9,1246.4 421.7,1270.0 428.5,1270.0 428.5,1293.7 430.0,1293.7 430.0,1270.0 431.0,1270.0 431.0,1293.7 433.1,1293.7 433.1,1151.7 434.5,1151.7 434.5,1175.3 441.9,1175.3 443.2,1199.0 445.5,1199.0 445.5,1151.7 447.5,1151.7 448.6,1222.7 452.7,1222.7 455.4,1246.4 456.0,1246.4 456.0,986.0 457.2,986.0 457.2,962.3 460.7,962.3 460.7,938.6 463.0,938.6 463.0,915.0 465.3,915.0 465.3,1128.0 469.9,1128.0 469.9,1104.3 485.2,1104.3 485.6,1246.4 487.6,1246.4 487.6,1222.7 490.8,1222.7 492.5,1199.0 499.8,1199.0 500.6,1175.3 517.6,1175.3 518.4,1199.0 520.0,1199.0 520.9,1270.0 522.5,1270.0 522.5,1104.3 523.5,1104.3 523.5,1128.0 524.5,1128.0 524.5,1104.3 526.0,1104.3 526.0,1128.0 527.0,1128.0 527.0,1104.3 527.6,1104.3 528.5,1293.7 529.3,1293.7 529.3,1270.0 534.0,1270.0 534.0,1246.4 534.6,1246.4 536.4,1293.7 539.9,1293.7 539.9,1270.0 549.5,1270.0 550.4,1246.4 561.0,1246.4 561.8,1270.0 569.8,1270.0 571.5,1293.7 573.3,1293.7 573.3,1270.0 577.7,1270.0 578.5,1293.7 580.3,1293.7 580.3,1246.4 584.7,1246.4 584.7,1270.0 589.4,1270.0 590.0,1199.0 590.8,1199.0 592.6,1222.7 597.0,1222.7 597.9,1246.4 599.5,1246.4 599.5,867.6 600.5,867.6 600.5,844.0 602.5,844.0 604.5,1175.3 606.8,1175.3 606.8,1151.7 608.3,1151.7 608.3,1128.0 612.7,1128.0 612.7,1104.3 616.5,1104.3 616.5,1080.7 619.4,1080.7 619.4,1057.0 622.3,1057.0 623.0,1317.4 626.0,1317.4 626.0,1270.0 631.2,1270.0 632.0,1246.4 633.3,1246.4 633.3,1270.0 634.5,1270.0 634.5,1246.4 636.0,1246.4 636.0,1270.0 637.5,1270.0 637.5,1246.4 638.5,1246.4 638.5,1270.0 639.4,1270.0 639.4,1246.4 643.9,1246.4 643.9,1222.7 651.3,1222.7 652.0,1199.0 660.2,1199.0 661.0,1222.7 663.9,1222.7 665.4,1293.7 669.1,1293.7 669.1,1341.0 675.8,1341.0 676.6,1317.4 682.5,1317.4 683.3,1270.0 686.2,1270.0 687.7,1246.4 688.9,1246.4 688.9,1317.4 690.0,1317.4 690.0,1293.7 694.4,1293.7 695.2,1270.0 701.9,1270.0 702.6,1246.4 722.2,1246.4 723.0,1270.0 725.5,1270.0 726.2,1175.3 734.3,1175.3 735.1,1199.0 740.0,1199.0 740.8,1222.7 744.0,1222.7 744.9,1246.4 749.7,1246.4 750.5,1270.0 751.0,1270.0 752.5,1293.7 755.4,1293.7 756.2,1317.4 761.9,1317.4 763.5,1293.7 765.5,1293.7 766.8,1317.4 772.4,1317.4 773.2,1175.3 786.2,1175.3 787.8,1199.0 789.5,1199.0 790.3,1270.0 791.1,1270.0 791.1,1364.7 795.1,1364.7 795.9,1341.0 799.2,1341.0 800.8,1293.7 804.0,1293.7 804.0,1270.0 805.5,1270.0 805.5,1293.7 806.5,1293.7 806.5,1270.0 808.1,1270.0 809.7,1341.0 813.8,1341.0 814.6,1317.4 821.9,1317.4 822.7,1293.7 829.6,1293.7 830.3,1270.0 832.8,1270.0 832.8,1293.7 834.0,1293.7 834.0,1270.0 835.0,1270.0 835.0,1293.7 836.5,1293.7 836.5,1270.0 838.0,1270.0 838.6,1246.4 848.3,1246.4 848.9,1222.7 857.9,1222.7 858.5,1246.4 866.9,1246.4 867.5,1317.4 869.5,1317.4 869.5,1341.0 870.8,1341.0 870.8,1293.7 881.7,1293.7 881.7,1222.7 897.7,1222.7 899.0,1246.4 904.2,1246.4 904.8,1270.0 909.3,1270.0 910.6,1293.7 917.6,1293.7 918.3,1317.4 922.1,1317.4 923.4,1341.0 929.2,1341.0 929.9,1246.4 931.8,1246.4 931.8,1270.0 933.8,1270.0 934.8,1341.0 935.5,1341.0 935.5,1317.4 936.5,1317.4 936.5,1341.0 938.7,1341.0 938.7,1317.4 940.5,1317.4 940.5,1199.0 949.5,1199.0 950.5,1175.3 960.3,1175.3 961.3,1104.3 970.1,1104.3 970.1,1293.7 977.0,1293.7 977.0,1270.0 978.5,1270.0 978.5,1293.7 982.5,1293.7 983.8,1317.4 984.8,1317.4 984.8,1293.7 991.7,1293.7 992.6,1270.0 1001.5,1270.0 1002.5,1246.4 1013.2,1246.4 1014.2,1270.0 1021.1,1270.0 1022.1,1222.7 1025.0,1222.7 1026.0,1246.4 1027.0,1246.4 1027.0,1270.0 1029.0,1270.0 1029.0,1246.4 1031.0,1246.4 1031.0,1270.0 1032.8,1270.0 1032.8,1199.0 1040.5,1199.0 1041.2,1222.7 1046.4,1222.7 1048.2,1246.4 1053.2,1246.4 1055.8,1270.0 1063.8,1270.0 1064.6,1293.7 1069.5,1293.7 1069.5,1317.4 1070.7,1317.4 1070.7,1293.7 1071.5,1293.7 1071.5,1222.7 1072.8,1222.7 1072.8,1293.7 1074.0,1293.7 1074.0,1222.7 1075.3,1222.7 1075.3,1293.7 1076.3,1293.7 1076.3,1199.0 1079.8,1199.0 1080.7,1175.3 1086.8,1175.3 1087.7,1151.7 1098.5,1151.7 1098.5,1175.3 1100.5,1175.3 1100.5,1151.7 1101.2,1151.7 1101.2,1175.3 1102.3,1175.3 1102.3,962.3 1109.3,962.3 1110.1,986.0 1111.8,986.0 1111.8,1128.0 1116.6,1128.0 1116.6,1104.3 1120.7,1104.3 1120.7,1080.7 1122.3,1080.7 1122.3,1104.3 1129.6,1104.3 1131.2,1128.0 1131.5,1128.0 1132.5,1293.7 1142.4,1293.7 1143.3,1270.0 1145.1,1270.0 1146.0,1246.4 1151.5,1246.4 1152.0,1317.4 1153.3,1317.4 1153.3,1293.7 1160.6,1293.7 1161.5,1199.0 1163.4,1199.0 1164.3,1175.3 1167.0,1175.3 1167.9,1151.7 1169.7,1151.7 1170.7,1128.0 1173.4,1128.0 1174.3,1104.3 1177.1,1104.3 1178.0,1080.7 1183.4,1080.7 1184.4,1222.7 1186.2,1222.7 1187.1,1199.0 1194.4,1199.0 1195.3,1175.3 1202.6,1175.3 1203.5,1199.0 1210.8,1199.0 1211.8,1222.7 1216.3,1222.7 1217.2,1246.4 1218.2,1246.4 1218.2,1151.7 1223.6,1151.7 1224.5,1175.3 1228.2,1175.3 1229.1,1199.0 1231.8,1199.0 1232.8,1222.7 1235.5,1222.7 1237.3,1246.4 1239.2,1246.4 1241.3,1293.7 1244.4,1293.7 1245.5,1317.4 1254.9,1317.4 1256.0,1270.0 1260.2,1270.0 1261.2,1128.0 1262.2,1128.0 1262.2,1104.3 1265.4,1104.3 1266.4,1080.7 1269.6,1080.7 1270.6,1057.0 1275.9,1057.0 1276.9,1033.3 1277.5,1033.3 1279.0,1175.3 1280.1,1175.3 1280.1,1151.7 1285.3,1151.7 1286.4,1128.0 1294.7,1128.0 1296.8,1151.7 1297.9,1151.7 1297.9,1293.7 1304.2,1293.7 1304.2,1270.0 1305.5,1270.0 1305.5,1293.7 1306.5,1293.7 1306.5,1270.0 1307.3,1270.0 1307.3,1317.4 1314.6,1317.4 1315.7,1293.7 1324.1,1293.7 1325.1,1222.7 1327.2,1222.7 1328.3,1199.0 1332.5,1199.0 1333.5,1175.3 1338.8,1175.3 1339.8,1151.7 1347.1,1151.7 1348.2,1199.0 1351.3,1199.0 1351.3,1175.3 1358.7,1175.3 1359.7,1199.0 1366.0,1199.0 1368.1,1222.7" fill="none" stroke="#3352a4" stroke-width="3.0" stroke-linejoin="miter" stroke-miterlimit="3"/>
<text transform="translate(103.32,1435.80) scale(0.96,1)">0</text>
<text transform="translate(207.74,1435.80) scale(0.96,1)">2</text>
<text transform="translate(312.16,1435.80) scale(0.96,1)">4</text>
<text transform="translate(416.58,1435.80) scale(0.96,1)">6</text>
<text transform="translate(521.00,1435.80) scale(0.96,1)">8</text>
<path transform="translate(612.35,1435.80) scale(0.04704,-0.04900)" d="M373,0 L373,665 L309,665 C290,610 255,570 190,555 C160,548 130,545 114,540 L114,473 L282,473 L282,0 Z"/><text transform="translate(638.50,1435.80) scale(0.96,1)">0</text>
<path transform="translate(716.77,1435.80) scale(0.04704,-0.04900)" d="M373,0 L373,665 L309,665 C290,610 255,570 190,555 C160,548 130,545 114,540 L114,473 L282,473 L282,0 Z"/><text transform="translate(742.92,1435.80) scale(0.96,1)">2</text>
<path transform="translate(821.19,1435.80) scale(0.04704,-0.04900)" d="M373,0 L373,665 L309,665 C290,610 255,570 190,555 C160,548 130,545 114,540 L114,473 L282,473 L282,0 Z"/><text transform="translate(847.34,1435.80) scale(0.96,1)">4</text>
<path transform="translate(925.61,1435.80) scale(0.04704,-0.04900)" d="M373,0 L373,665 L309,665 C290,610 255,570 190,555 C160,548 130,545 114,540 L114,473 L282,473 L282,0 Z"/><text transform="translate(951.76,1435.80) scale(0.96,1)">6</text>
<path transform="translate(1030.03,1435.80) scale(0.04704,-0.04900)" d="M373,0 L373,665 L309,665 C290,610 255,570 190,555 C160,548 130,545 114,540 L114,473 L282,473 L282,0 Z"/><text transform="translate(1056.18,1435.80) scale(0.96,1)">8</text>
<text transform="translate(1134.45,1435.80) scale(0.96,1)">2</text><text transform="translate(1160.60,1435.80) scale(0.96,1)">0</text>
<text transform="translate(1238.87,1435.80) scale(0.96,1)">2</text><text transform="translate(1265.02,1435.80) scale(0.96,1)">2</text>
<text transform="translate(1343.29,1435.80) scale(0.96,1)">2</text><text transform="translate(1369.44,1435.80) scale(0.96,1)">4</text>
<path transform="translate(85.75,1383.00) scale(0.04704,-0.04900)" d="M373,0 L373,665 L309,665 C290,610 255,570 190,555 C160,548 130,545 114,540 L114,473 L282,473 L282,0 Z"/>
<path transform="translate(49.51,1264.65) scale(0.04704,-0.04900)" d="M373,0 L373,665 L309,665 C290,610 255,570 190,555 C160,548 130,545 114,540 L114,473 L282,473 L282,0 Z"/><text transform="translate(75.67,1264.65) scale(0.96,1)">.</text><text transform="translate(88.75,1264.65) scale(0.96,1)">5</text>
<text transform="translate(88.75,1146.30) scale(0.96,1)">2</text>
<text transform="translate(49.51,1027.95) scale(0.96,1)">2</text><text transform="translate(75.67,1027.95) scale(0.96,1)">.</text><text transform="translate(88.75,1027.95) scale(0.96,1)">5</text>
<text transform="translate(88.75,909.60) scale(0.96,1)">3</text>
<text transform="translate(49.51,791.25) scale(0.96,1)">3</text><text transform="translate(75.67,791.25) scale(0.96,1)">.</text><text transform="translate(88.75,791.25) scale(0.96,1)">5</text>
<text transform="translate(755.2,1478.1) scale(0.96,1)" text-anchor="middle">Hours</text>
<text transform="translate(34.5,1081.0) rotate(-90) scale(0.96,1)" text-anchor="middle">VDOP</text>
<rect x="1161.6" y="780.2" width="226.80000000000018" height="112.29999999999995" fill="#fff" stroke="#231f20" stroke-width="2.5"/>
<line x1="1169.6" y1="808.9" x2="1212.5" y2="808.9" stroke="#ed1c24" stroke-width="3.0"/>
<line x1="1169.6" y1="862.3" x2="1212.5" y2="862.3" stroke="#3352a4" stroke-width="3.0"/>
<text transform="translate(1216.4,827.1) scale(0.96,1)">G/R/E/C</text>
<text transform="translate(1216.4,882.1) scale(0.96,1)">G</text>
</g></svg>
</body></html>
